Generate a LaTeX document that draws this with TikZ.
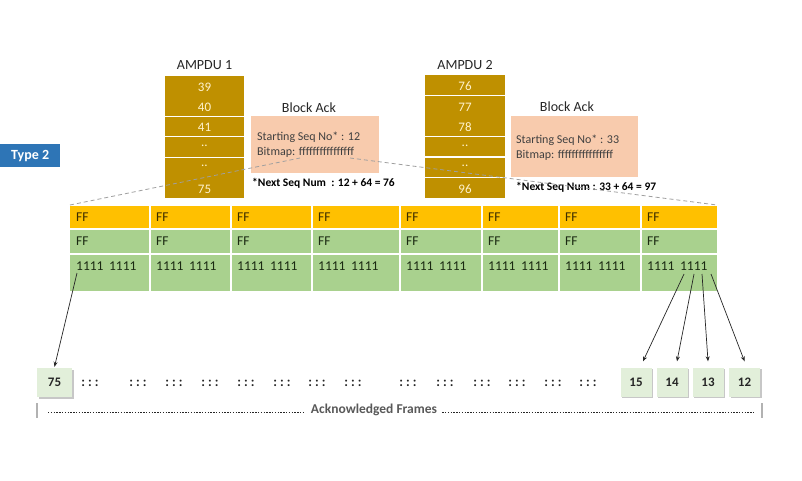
\documentclass[tikz,border=0pt]{standalone}
\usepackage{fontspec}
\setmainfont{Carlito}
\usetikzlibrary{arrows.meta,shadows}
\definecolor{gold}{HTML}{BF9000}
\definecolor{cream}{HTML}{FFF2CC}
\definecolor{pinkbox}{HTML}{F8CBAD}
\definecolor{yel}{HTML}{FFC000}
\definecolor{grn}{HTML}{A9D18E}
\definecolor{lgrn}{HTML}{E2EFDA}
\definecolor{typeblue}{HTML}{2E75B6}
\definecolor{dtxt}{HTML}{262626}
\definecolor{btxt}{HTML}{404040}
\definecolor{ytxt}{HTML}{3D2E00}
\definecolor{gtxt}{HTML}{1B2A12}
\definecolor{gtext}{HTML}{595959}
\begin{document}
\begin{tikzpicture}[x=1pt,y=-1pt,
  lbl/.style={font=\fontsize{14}{16}\selectfont, text=dtxt, inner sep=0pt},
  coltxt/.style={font=\fontsize{13}{15}\selectfont, text=cream, inner sep=0pt},
  sep/.style={white, line width=1.5pt},
  batxt/.style={font=\fontsize{12}{15}\selectfont, text=btxt, align=left, anchor=west, inner sep=0pt},
  nxt/.style={font=\bfseries\fontsize{11.5}{13}\selectfont, text=black, anchor=west, inner sep=0pt},
  bapink/.style={fill=pinkbox, anchor=north west, inner sep=0pt},
  ytx/.style={font=\fontsize{13.5}{15}\selectfont, text=ytxt, anchor=west, inner sep=0pt},
  gtx/.style={font=\fontsize{13.5}{15}\selectfont, text=gtxt, anchor=west, inner sep=0pt},
  tsep/.style={white, line width=2pt},
  dashline/.style={gray!75, line width=0.8pt, dash pattern=on 4pt off 3pt},
  framebox/.style={fill=lgrn, minimum width=31pt, minimum height=29pt, inner sep=0pt,
    font=\bfseries\fontsize{13}{15}\selectfont, text=dtxt,
    drop shadow={shadow xshift=1.5pt, shadow yshift=-1.5pt, fill=gray!55, opacity=0.8}},
  conn/.style={-{Stealth[length=5pt,width=4pt]}, line width=0.7pt, black!85},
  dotsx/.style={font=\bfseries\fontsize{13.5}{15}\selectfont, text=dtxt, inner sep=0pt},
  ackline/.style={dtxt, line width=1.6pt, dash pattern=on 1.4pt off 1.4pt},
  barl/.style={gray!60, line width=1.3pt}
]
\useasboundingbox (0,0) rectangle (802,481);
\fill[white] (0,0) rectangle (802,481);

% Type 2
\node[fill=typeblue, minimum width=60pt, minimum height=23pt, inner sep=0pt,
  anchor=north west, text=white, font=\bfseries\fontsize{14}{16}\selectfont] (type2) at (0,144) {Type 2};

% AMPDU 1
\node[lbl] (amp1) at (204.5,65) {AMPDU 1};
\fill[gold] (165,76) rectangle (244,198);
\draw[sep] (165,116.7) -- (244,116.7);
\draw[sep] (165,136.7) -- (244,136.7);
\draw[sep] (165,157.5) -- (244,157.5);
\node[coltxt] (a1r1) at (204.5,87) {39};
\node[coltxt] (a1r2) at (204.5,107) {40};
\node[coltxt] (a1r3) at (204.5,127) {41};
\node[coltxt] (a1r4) at (204.5,146) {..};
\node[coltxt] (a1r5) at (204.5,166) {..};
\node[coltxt] (a1r6) at (204.5,189) {75};

% AMPDU 2
\node[lbl] (amp2) at (465,65) {AMPDU 2};
\fill[gold] (425,75) rectangle (505,198);
\draw[sep] (425,95.5) -- (505,95.5);
\draw[sep] (425,136.7) -- (505,136.7);
\draw[sep] (425,157) -- (505,157);
\draw[sep] (425,177.5) -- (505,177.5);
\node[coltxt] (a2r1) at (465,86) {76};
\node[coltxt] (a2r2) at (465,107) {77};
\node[coltxt] (a2r3) at (465,127) {78};
\node[coltxt] (a2r4) at (465,146) {..};
\node[coltxt] (a2r5) at (465,166) {..};
\node[coltxt] (a2r6) at (465,189) {96};

% Block Ack 1
\node[lbl] (bal1) at (309,108) {Block Ack};
\node[bapink, minimum width=128pt, minimum height=57pt] (ba1) at (251,116) {};
\node[batxt] (ba1t) at (257,144.5) {Starting Seq No* : 12\\Bitmap: ffffffffffffffff};
\node[nxt] (nx1) at (252,183) {*Next Seq Num \ : 12 + 64 = 76};

% Block Ack 2
\node[lbl] (bal2) at (567,107) {Block Ack};
\node[bapink, minimum width=127pt, minimum height=61pt] (ba2) at (511,116) {};
\node[batxt] (ba2t) at (516,147.5) {Starting Seq No* : 33\\Bitmap: ffffffffffffffff};
\node[nxt] (nx2) at (516,187) {*Next Seq Num : 33 + 64 = 97};

% Bitmap table
\fill[yel] (70,206) rectangle (717,229);
\fill[grn] (70,229) rectangle (717,291);
\draw[tsep] (70,229) -- (717,229);
\draw[tsep] (70,253.5) -- (717,253.5);
\foreach \xx in {150,231,312,400,482,559,641}
  \draw[tsep] (\xx,206) -- (\xx,291);
\foreach \a [count=\i] in {70,150,231,312,400,482,559,641} {
  \node[ytx] (fa\i) at (\a+6,217.5) {FF};
  \node[gtx] (fb\i) at (\a+6,241.5) {FF};
  \node[gtx] (fc\i) at (\a+6,266.5) {1111\hspace{2.5pt} 1111};
}

% dashed zoom lines
\coordinate (bm1) at (300,158);
\coordinate (bm2) at (350,158);
\coordinate (tl) at (70,205);
\coordinate (tr) at (717,205);
\draw[dashline] (tl) -- (bm1);
\draw[dashline] (bm2) -- (tr);

% frame boxes
\node[framebox, minimum width=35pt] (b75) at (54.5,382.5) {75};
\node[framebox] (b15) at (636,382) {15};
\node[framebox] (b14) at (672,382) {14};
\node[framebox] (b13) at (708,382) {13};
\node[framebox] (b12) at (744.5,382) {12};

% arrows
\coordinate (s0) at (77,273);
\coordinate (s1) at (684,274);
\coordinate (s2) at (694,274);
\coordinate (s3) at (702,274);
\coordinate (s4) at (711,274);
\draw[conn] (s0) -- ([yshift=1pt]b75.north);
\draw[conn] (s1) -- ([xshift=7pt,yshift=6pt]b15.north);
\draw[conn] (s2) -- ([xshift=5pt,yshift=6pt]b14.north);
\draw[conn] (s3) -- ([yshift=6pt]b13.north);
\draw[conn] (s4) -- ([yshift=6pt]b12.north);

% dots
\foreach \xx [count=\i] in {90,138,174,210,246,282,317,353,408,445,482,517,553,588}
  \node[dotsx] (d\i) at (\xx,383) {:\hspace{3pt}:\hspace{3pt}:};

% acknowledged frames line
\coordinate (lb1) at (37,403);
\coordinate (lb2) at (37,418);
\coordinate (rb1) at (762,403);
\coordinate (rb2) at (762,418);
\draw[barl] (lb1) -- (lb2);
\draw[barl] (rb1) -- (rb2);
\node[font=\bfseries\fontsize{13.5}{15}\selectfont, text=gtext, inner sep=0pt] (ack) at (374,410) {Acknowledged Frames};
\coordinate (dl1) at (48,412.5);
\coordinate (dr2) at (755,412.5);
\draw[ackline] (dl1) -- ([xshift=-6pt]ack.west |- dl1);
\draw[ackline] ([xshift=5pt]ack.east |- dr2) -- (dr2);
\end{tikzpicture}
\end{document}
